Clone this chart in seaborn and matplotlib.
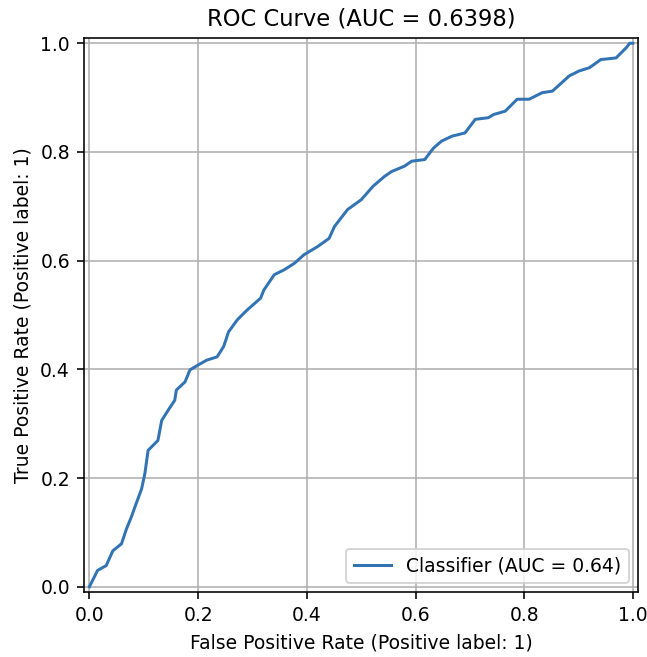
import matplotlib
matplotlib.use("Agg")
import matplotlib.pyplot as plt
import seaborn as sns
import pandas as pd

fpr = [0, 0.015, 0.031, 0.043, 0.059, 0.068, 0.077, 0.086, 0.096, 0.102,
       0.108, 0.126, 0.133, 0.145, 0.157, 0.160, 0.176, 0.185, 0.200, 0.216,
       0.235, 0.247, 0.256, 0.272, 0.290, 0.315, 0.321, 0.340, 0.358, 0.377,
       0.395, 0.420, 0.441, 0.451, 0.475, 0.500, 0.522, 0.543, 0.556, 0.580,
       0.593, 0.617, 0.633, 0.648, 0.667, 0.691, 0.710, 0.734, 0.744, 0.765,
       0.787, 0.809, 0.833, 0.852, 0.883, 0.901, 0.920, 0.941, 0.969, 0.988,
       0.994, 1.0]
tpr = [0, 0.030, 0.039, 0.066, 0.079, 0.106, 0.128, 0.153, 0.180, 0.208,
       0.251, 0.269, 0.306, 0.325, 0.343, 0.362, 0.377, 0.399, 0.408, 0.417,
       0.423, 0.442, 0.469, 0.491, 0.509, 0.531, 0.546, 0.574, 0.583, 0.595,
       0.611, 0.626, 0.641, 0.663, 0.694, 0.712, 0.737, 0.755, 0.764, 0.774,
       0.783, 0.786, 0.807, 0.820, 0.829, 0.835, 0.860, 0.863, 0.869, 0.875,
       0.897, 0.897, 0.909, 0.912, 0.940, 0.949, 0.955, 0.970, 0.973, 0.992,
       1.0, 1.0]
auc_full = 0.6398
legend_label = "Classifier (AUC = 0.64)"

df = pd.DataFrame({"fpr": fpr, "tpr": tpr})

plt.rcParams["font.size"] = 9.4
plt.rcParams["axes.titlesize"] = 11.3

dpi = 144
fig = plt.figure(figsize=(647 / dpi, 657 / dpi), dpi=dpi)
ax = fig.add_axes([0.1298, 0.0985, 0.8568, 0.8441])

sns.lineplot(data=df, x="fpr", y="tpr", sort=False, estimator=None,
             color="#3274b3", linewidth=1.5, label=legend_label, ax=ax)

ax.set_xlim(-0.01, 1.01)
ax.set_ylim(-0.01, 1.01)
ax.set_aspect("equal", adjustable="box")
ax.set_xticks([0, 0.2, 0.4, 0.6, 0.8, 1.0])
ax.set_yticks([0, 0.2, 0.4, 0.6, 0.8, 1.0])
ax.grid(True)
ax.set_xlabel("False Positive Rate (Positive label: 1)")
ax.set_ylabel("True Positive Rate (Positive label: 1)")
ax.set_title(f"ROC Curve (AUC = {auc_full:.4f})")
ax.legend(loc="lower right")

fig.savefig("out.png", dpi=dpi)
